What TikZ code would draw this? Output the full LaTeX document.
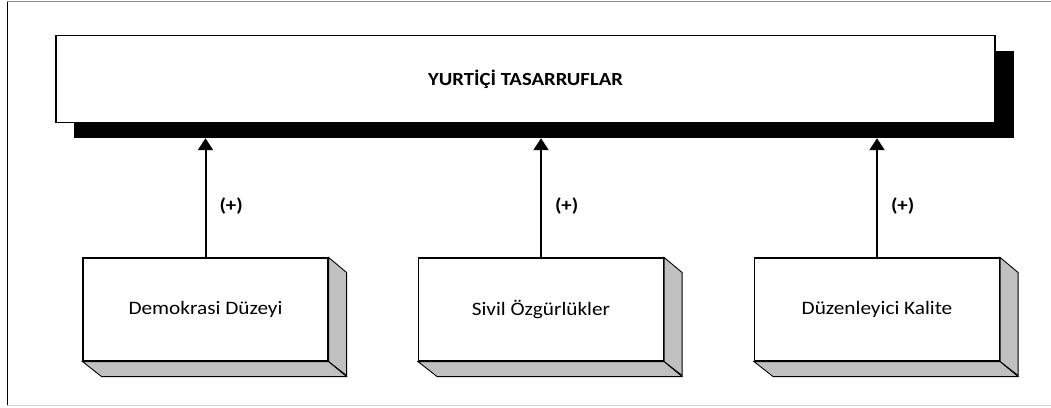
\documentclass[tikz,border=0pt]{standalone}
\usepackage{graphicx}
\usepackage{fontspec}
\setmainfont{Carlito}
\usetikzlibrary{arrows.meta}
\definecolor{sideface}{HTML}{C0C0C0}
\definecolor{framegray}{HTML}{8C8C8C}
\definecolor{framelight}{HTML}{D4D4D4}
% slightly widened lettering
\newcommand{\widetext}[1]{\scalebox{1.12}[1]{#1}}
\tikzset{
  factorbox/.style={draw=black, line width=1.1pt, fill=white, minimum width=245pt,
    minimum height=103pt, inner sep=0pt, font=\fontsize{19}{22}\selectfont},
  sideface/.style={fill=sideface, draw=black, line width=0.9pt, line join=miter},
  titlebox/.style={draw=black, line width=1.1pt, fill=white, minimum width=939pt,
    minimum height=87pt, inner sep=0pt, font=\bfseries\fontsize{18.5}{22}\selectfont},
  shadowbox/.style={fill=black, minimum width=940pt, minimum height=87pt, inner sep=0pt},
  effect/.style={-{Triangle[width=15pt,length=12pt]}, line width=2pt},
  sign/.style={font=\bfseries\fontsize{18.5}{22}\selectfont, anchor=west, inner sep=0pt}
}
\begin{document}
\begin{tikzpicture}[x=1pt,y=-1pt]
  \useasboundingbox (0,0) rectangle (1051,407);
  % outer frame
  \draw[framegray, line width=1pt] (7,1.5) -- (1051,1.5);
  \draw[framelight, line width=1pt] (7,405) -- (1051,405);
  \draw[black, line width=1pt] (7,1.5) -- (7,405);

  % dependent variable with its drop shadow
  \node[shadowbox] (shd) at (544,94.5) {};
  \node[titlebox] (top) at (525.5,79) {\widetext{YURTİÇİ TASARRUFLAR}};

  % explanatory factors
  \node[factorbox] (b1) at (205.5,309.5) {\widetext{Demokrasi Düzeyi}};
  \node[factorbox] (b2) at (541,309.5) {\widetext{Sivil Özgürlükler}};
  \node[factorbox] (b3) at (877,309.5) {\widetext{Düzenleyici Kalite}};

  % extruded side and bottom faces
  \foreach \b in {b1,b2,b3}{
    \filldraw[sideface] (\b.north east) -- ++(18,15) -- ++(0,103) -- (\b.south east) -- cycle;
    \filldraw[sideface] (\b.south west) -- (\b.south east) -- ++(18,15) -- ++(-245,0) -- cycle;
  }

  % positive effects
  \foreach \b in {b1,b2,b3}{
    \draw[effect] (\b.north) -- (\b.north |- shd.south)
      node[sign, pos=0.43, xshift=13pt] {\widetext{(+)}};
  }
\end{tikzpicture}
\end{document}
